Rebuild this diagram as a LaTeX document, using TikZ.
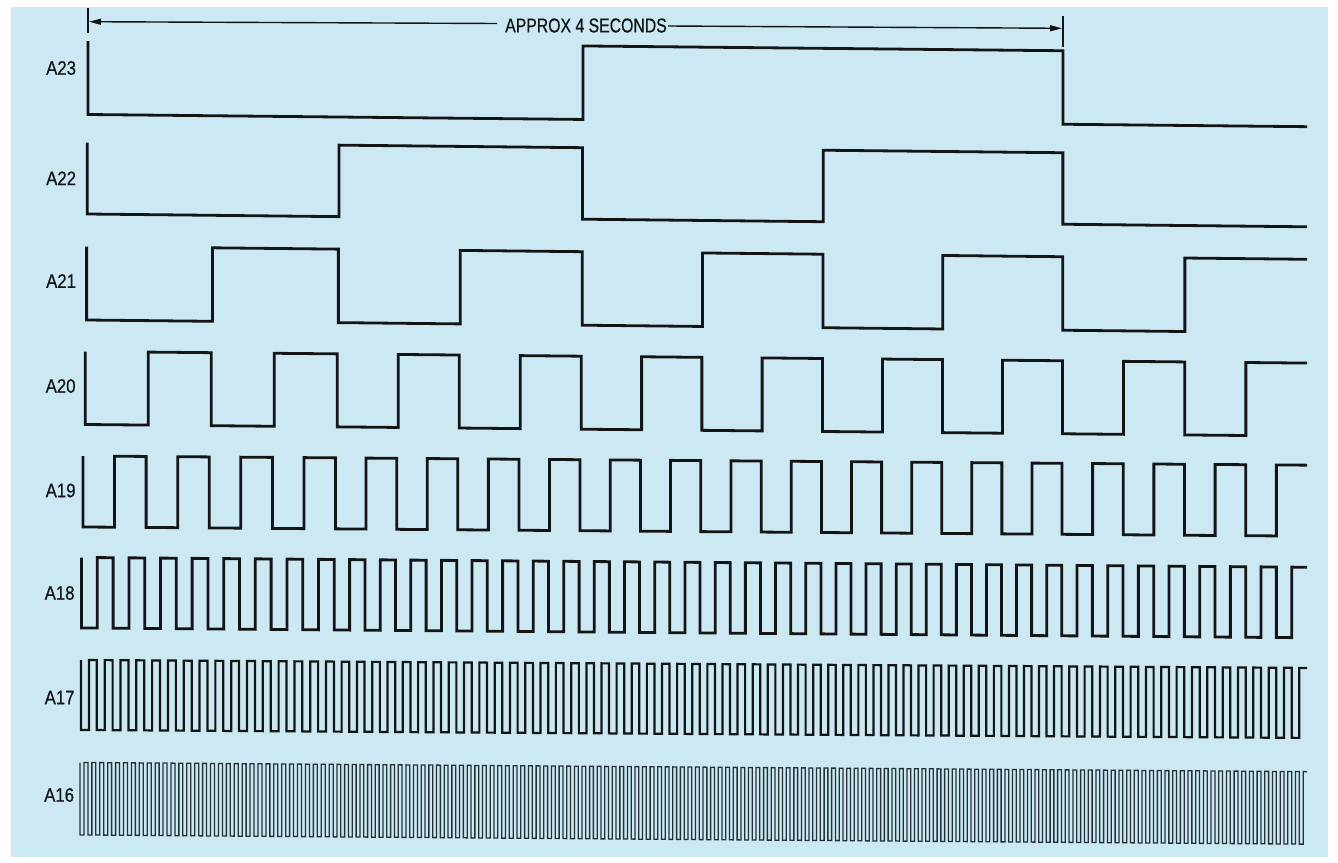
\documentclass[tikz,border=0pt]{standalone}
\usepackage{fontspec}
\setmainfont{Liberation Sans}
\newfontfamily\lblfont{Liberation Sans}[BoldFont={Liberation Sans}, BoldFeatures={FakeBold=0.6}]
\usetikzlibrary{arrows.meta}
\definecolor{bgblue}{RGB}{204,232,242}
\definecolor{ink}{RGB}{18,20,22}
\definecolor{inkgray}{RGB}{36,50,56}
% #1 high  #2 low  #3 slope  #4 half period (units)  #5 row shift  #6 last j  #7 style
\newcommand\wvrow[7]{%
  \draw[#7] ({px(0,#5)},{#1}) -- ({px(0,#5)},{#2})
    \foreach \j [evaluate={\j as \xr using px((2*\j+1)*#4,#5)},
                 evaluate={\j as \xf using px((2*\j+2)*#4,#5)}] in {0,...,#6}
    { -- (\xr,{#2+#3*(\xr-88)}) -- (\xr,{#1+#3*(\xr-88)})
      -- (\xf,{#1+#3*(\xf-88)}) -- (\xf,{#2+#3*(\xf-88)}) }
    -- ({px(20-#4,#5)},{#2+#3*(px(20-#4,#5)-88)})
    -- ({px(20-#4,#5)},{#1+#3*(px(20-#4,#5)-88)})
    -- (1307,{#1+#3*1219});
}
\begin{document}
\begin{tikzpicture}[x=1pt,y=-1pt,
  declare function={
    kx(\u)=88+62.875*min(\u,4)+60.875*max(min(\u,8)-4,0)+60.125*max(min(\u,12)-8,0)+59.875*max(min(\u,16)-12,0)+61*max(\u-16,0);
    px(\u,\d)=kx(\u)+\d*(1307-kx(\u))/1219;
  },
  wave/.style={draw=ink, line width=2.8pt, line join=miter},
  wavethin/.style={draw=ink, line width=2.2pt, line join=miter},
  wavefine/.style={draw=inkgray, line width=1.3pt, line join=miter},
  lbl/.style={anchor=west, inner sep=0pt, text=ink, font=\lblfont\bfseries\fontsize{19.5}{20}\selectfont},
  ttlstyle/.style={inner sep=0pt, text=ink, font=\lblfont\bfseries\fontsize{20}{21}\selectfont},
  dimline/.style={draw=ink, line width=1.4pt},
  tick/.style={draw=ink, line width=1.3pt},
  tip/.style={-{Triangle[length=12pt,width=6pt]}}
]
\useasboundingbox (0,0) rectangle (1338,862);
\fill[white] (0,0) rectangle (1338,862);
\fill[bgblue] (11,7) rectangle (1328,857);

% dimension arrow
\coordinate (tkLtop) at (88,8);
\coordinate (tkLbot) at (88,33);
\coordinate (tkRtop) at (1063,15.7);
\coordinate (tkRbot) at (1063,46.7);
\draw[tick] (tkLtop) -- (tkLbot);
\draw[tick] (tkRtop) -- (tkRbot);
\node[ttlstyle] (ttl) at (586,25.5) {\scalebox{0.79}[1]{APPROX 4 SECONDS}};
\coordinate (gapL) at (497,23.5);
\coordinate (gapR) at (668,26);
\coordinate (tipL) at (89,21.7);
\coordinate (tipR) at (1062,28.3);
\draw[dimline,tip] (gapL) -- (tipL);
\draw[dimline,tip] (gapR) -- (tipR);

% labels
\node[lbl] (lA23) at (46,68)    {\scalebox{0.86}[1]{A23}};
\node[lbl] (lA22) at (46,178.3) {\scalebox{0.86}[1]{A22}};
\node[lbl] (lA21) at (46,281)   {\scalebox{0.86}[1]{A21}};
\node[lbl] (lA20) at (45.5,386) {\scalebox{0.86}[1]{A20}};
\node[lbl] (lA19) at (45.5,490.5) {\scalebox{0.86}[1]{A19}};
\node[lbl] (lA18) at (44.5,593) {\scalebox{0.86}[1]{A18}};
\node[lbl] (lA17) at (44.5,697.5) {\scalebox{0.86}[1]{A17}};
\node[lbl] (lA16) at (44,795)   {\scalebox{0.86}[1]{A16}};

% A23
\draw[wave] ({px(0,0)},41) -- ({px(0,0)},114.5)
  -- ({px(8,0)},{114.5+0.01*(px(8,0)-88)}) -- ({px(8,0)},{41+0.01*(px(8,0)-88)})
  -- ({px(16,0)},{41+0.01*(px(16,0)-88)}) -- ({px(16,0)},{114.5+0.01*(px(16,0)-88)})
  -- (1307,{114.5+0.01*1219});
% A22
\draw[wave] ({px(0,-0.7)},142.5) -- ({px(0,-0.7)},214)
  -- ({px(4,-0.7)},{214+0.0105*(px(4,-0.7)-88)}) -- ({px(4,-0.7)},{142.5+0.0105*(px(4,-0.7)-88)})
  -- ({px(8,-0.7)},{142.5+0.0105*(px(8,-0.7)-88)}) -- ({px(8,-0.7)},{214+0.0105*(px(8,-0.7)-88)})
  -- ({px(12,-0.7)},{214+0.0105*(px(12,-0.7)-88)}) -- ({px(12,-0.7)},{142.5+0.0105*(px(12,-0.7)-88)})
  -- ({px(16,-0.7)},{142.5+0.0105*(px(16,-0.7)-88)}) -- ({px(16,-0.7)},{214+0.0105*(px(16,-0.7)-88)})
  -- (1307,{214+0.0105*1219});
% A21 .. A16
\wvrow{246.5}{320}{0.0105}{2}{-1.4}{3}{wave}
\wvrow{351.5}{424.5}{0.0095}{1}{-2.8}{8}{wave}
\wvrow{456}{527}{0.0075}{0.5}{-5}{18}{wave}
\wvrow{557.5}{628}{0.008}{0.25}{-6.5}{38}{wave}
\wvrow{660}{730}{0.0065}{0.125}{-7}{78}{wavethin}
\wvrow{762.5}{835}{0.0075}{0.0625}{-8}{158}{wavefine}
\end{tikzpicture}
\end{document}
